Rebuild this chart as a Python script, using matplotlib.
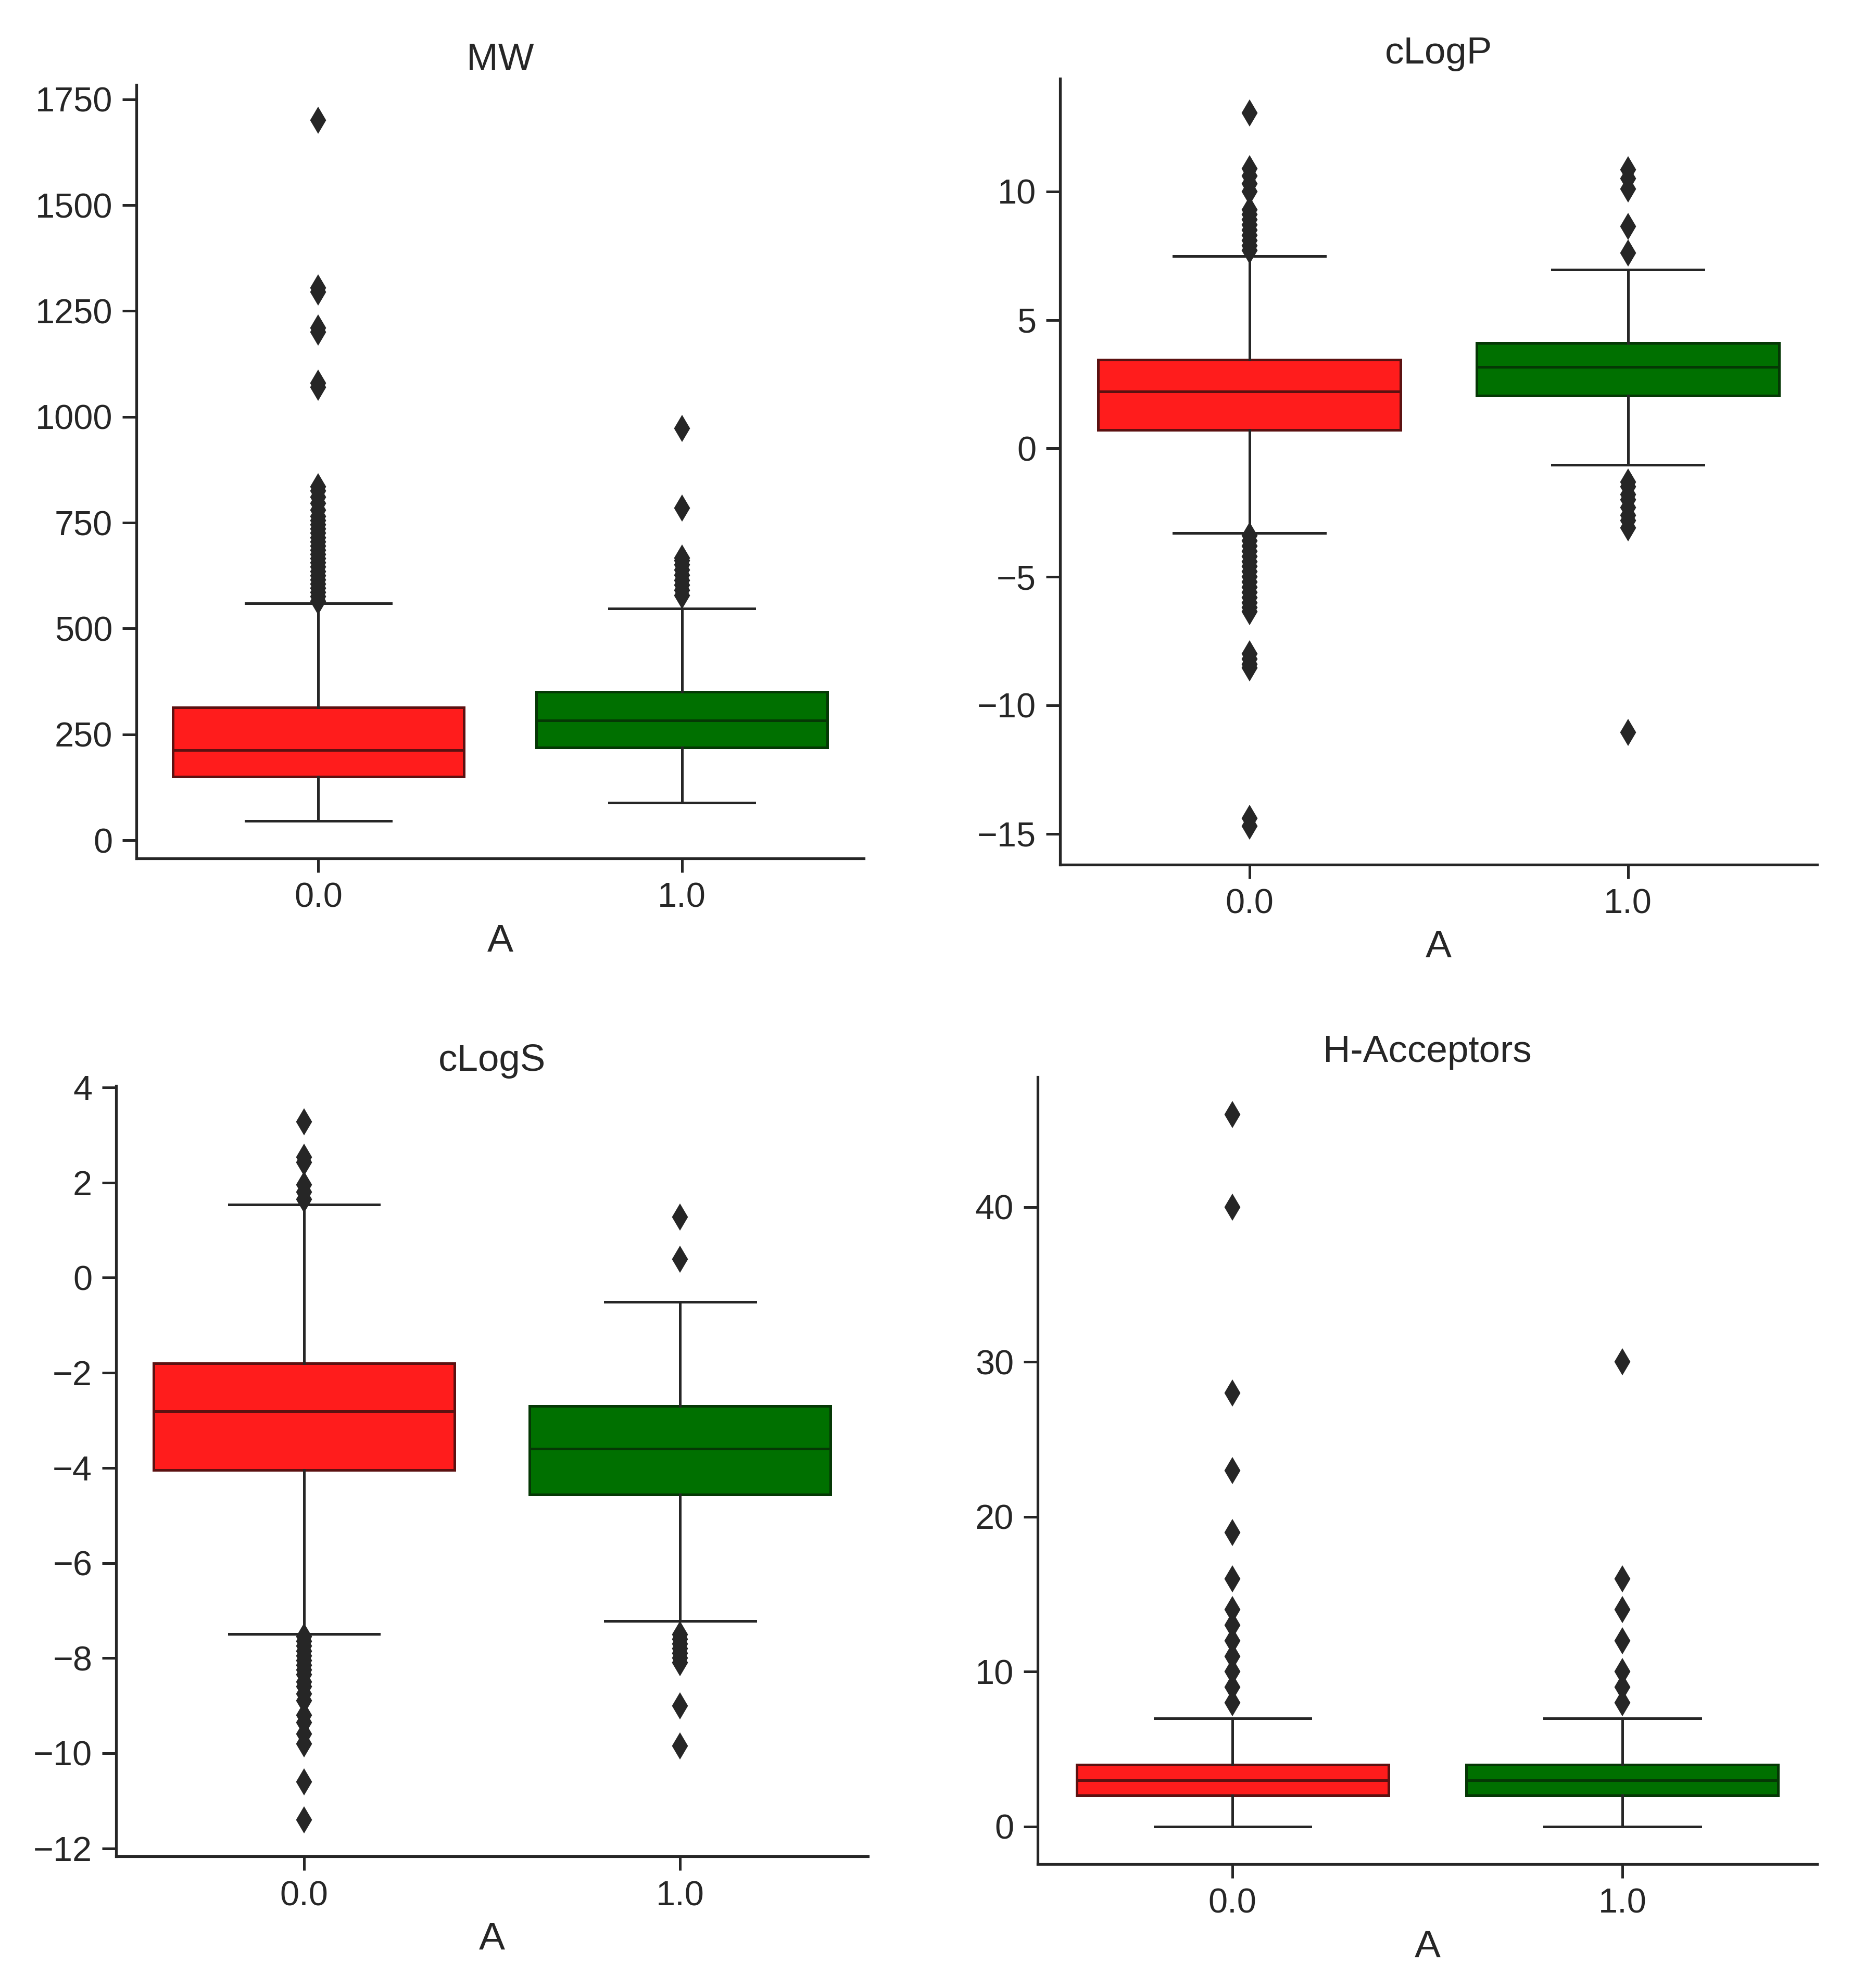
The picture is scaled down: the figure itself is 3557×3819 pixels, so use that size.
import matplotlib
matplotlib.use("Agg")
import matplotlib.pyplot as plt

plt.rcParams["font.family"] = ["Liberation Sans", "DejaVu Sans"]

TEXT = "#262626"

groups = ["0.0", "1.0"]
box_colors = ["#ff1c1c", "#007000"]
edge_colors = ["#5c1111", "#053805"]

# MW
mw_q1 = [150, 219]
mw_med = [213, 283]
mw_q3 = [313, 351]
mw_lo = [45, 88]
mw_hi = [559, 547]
mw_fliers_0 = [565, 575, 585, 595, 605, 615, 625, 635, 645, 655, 665, 675, 685,
               695, 705, 715, 725, 735, 745, 755, 765, 780, 795, 810, 825, 835,
               1070, 1080, 1200, 1210, 1295, 1305, 1700]
mw_fliers_1 = [578, 590, 602, 614, 626, 638, 650, 660, 667, 785, 973]
mw_ticks = [0, 250, 500, 750, 1000, 1250, 1500, 1750]

# cLogP
clogp_q1 = [0.71, 2.06]
clogp_med = [2.21, 3.17]
clogp_q3 = [3.46, 4.10]
clogp_lo = [-3.29, -0.64]
clogp_hi = [7.49, 6.95]
clogp_fliers_0 = [7.7, 7.9, 8.1, 8.3, 8.5, 8.7, 8.9, 9.1, 9.3, 10.0, 10.3, 10.6,
                  10.9, 13.05, -3.4, -3.6, -3.8, -4.0, -4.2, -4.4, -4.6, -4.8,
                  -5.0, -5.2, -5.4, -5.6, -5.8, -6.0, -6.2, -6.35, -8.0, -8.2,
                  -8.4, -8.55, -14.4, -14.7]
clogp_fliers_1 = [7.6, 8.65, 10.1, 10.5, 10.85, -1.3, -1.5, -1.8, -2.0, -2.3,
                  -2.6, -2.8, -3.1, -11.05]
clogp_ticks = [-15, -10, -5, 0, 5, 10]

# cLogS
clogs_q1 = [-4.05, -4.56]
clogs_med = [-2.81, -3.60]
clogs_q3 = [-1.80, -2.70]
clogs_lo = [-7.49, -7.22]
clogs_hi = [1.54, -0.51]
clogs_fliers_0 = [3.28, 2.53, 2.42, 1.95, 1.8, 1.65, -7.55, -7.65, -7.75, -7.85,
                  -7.95, -8.05, -8.15, -8.25, -8.35, -8.5, -8.6, -8.75, -8.9,
                  -9.2, -9.35, -9.6, -9.8, -10.6, -11.4]
clogs_fliers_1 = [1.27, 0.39, -7.5, -7.6, -7.7, -7.8, -7.9, -8.0, -8.1, -9.0,
                  -9.85]
clogs_ticks = [-12, -10, -8, -6, -4, -2, 0, 2, 4]

# H-Acceptors
hacc_q1 = [2, 2]
hacc_med = [3, 3]
hacc_q3 = [4, 4]
hacc_lo = [0, 0]
hacc_hi = [7, 7]
hacc_fliers_0 = [8, 9, 10, 11, 12, 13, 14, 16, 19, 23, 28, 40, 46]
hacc_fliers_1 = [8, 9, 10, 12, 14, 16, 30]
hacc_ticks = [0, 10, 20, 30, 40]


def draw_panel(ax, title, q1, med, q3, lo, hi, fliers, ticks, ylim):
    stats = []
    for i in range(len(groups)):
        stats.append({"q1": q1[i], "med": med[i], "q3": q3[i],
                      "whislo": lo[i], "whishi": hi[i], "fliers": fliers[i]})
    res = ax.bxp(stats, positions=range(len(groups)), widths=0.8,
                 patch_artist=True, showfliers=True,
                 whiskerprops=dict(color=TEXT, linewidth=1.2),
                 capprops=dict(color=TEXT, linewidth=1.2),
                 flierprops=dict(marker="d", markersize=7.5, linestyle="none",
                                 markerfacecolor=TEXT, markeredgecolor=TEXT))
    for i, box in enumerate(res["boxes"]):
        box.set_facecolor(box_colors[i])
        box.set_edgecolor(edge_colors[i])
        box.set_linewidth(1.2)
        res["medians"][i].set_color(edge_colors[i])
        res["medians"][i].set_linewidth(1.2)
    ax.set_xticks(range(len(groups)))
    ax.set_xticklabels(groups)
    ax.set_xlim(-0.5, 1.5)
    ax.set_yticks(ticks)
    ax.set_ylim(*ylim)
    ax.set_title(title, fontsize=17.5, color=TEXT, pad=7)
    ax.set_xlabel("A", fontsize=18, color=TEXT)
    for side in ["top", "right"]:
        ax.spines[side].set_visible(False)
    for side in ["left", "bottom"]:
        ax.spines[side].set_linewidth(1.25)
        ax.spines[side].set_color(TEXT)
    ax.tick_params(labelsize=16, length=6.5, width=1.2, pad=4.5,
                   color=TEXT, labelcolor=TEXT)


fig = plt.figure(figsize=(3557 / 300, 3819 / 300), dpi=300)

ax1 = fig.add_axes([0.0737, 0.5682, 0.3927, 0.3891])
draw_panel(ax1, "MW", mw_q1, mw_med, mw_q3, mw_lo, mw_hi,
           [mw_fliers_0, mw_fliers_1], mw_ticks, (-43, 1784))

ax2 = fig.add_axes([0.5724, 0.5651, 0.4088, 0.3954])
draw_panel(ax2, "cLogP", clogp_q1, clogp_med, clogp_q3, clogp_lo, clogp_hi,
           [clogp_fliers_0, clogp_fliers_1], clogp_ticks, (-16.2, 14.4))

ax3 = fig.add_axes([0.0627, 0.0662, 0.4060, 0.3875])
draw_panel(ax3, "cLogS", clogs_q1, clogs_med, clogs_q3, clogs_lo, clogs_hi,
           [clogs_fliers_0, clogs_fliers_1], clogs_ticks, (-12.17, 4.03))

ax4 = fig.add_axes([0.5603, 0.0623, 0.4209, 0.3959])
draw_panel(ax4, "H-Acceptors", hacc_q1, hacc_med, hacc_q3, hacc_lo, hacc_hi,
           [hacc_fliers_0, hacc_fliers_1], hacc_ticks, (-2.43, 48.4))

fig.savefig("out.png", dpi=300, facecolor="white")
